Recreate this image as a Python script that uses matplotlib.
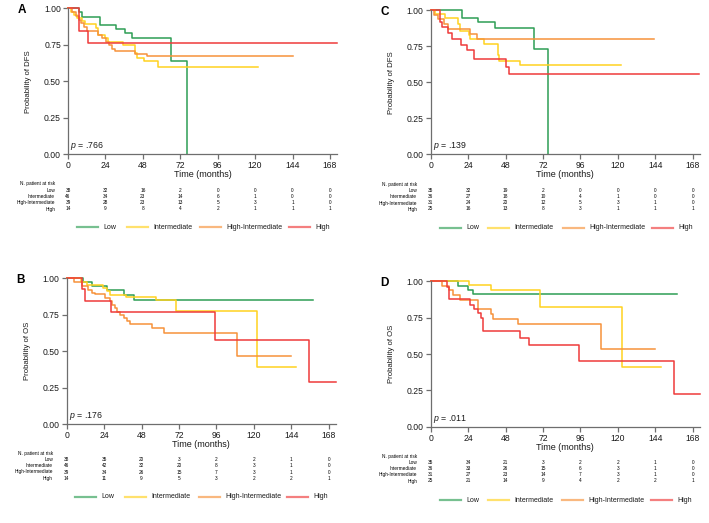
import matplotlib.pyplot as plt
from matplotlib.lines import Line2D
from matplotlib.transforms import blended_transform_factory

plt.rcParams['font.family'] = ['Liberation Sans', 'DejaVu Sans']
plt.rcParams['mathtext.fontset'] = 'custom'
plt.rcParams['mathtext.it'] = 'Liberation Sans:italic'
plt.rcParams['mathtext.rm'] = 'Liberation Sans'

W, H = 709, 523

grupos = ['Low', 'Intermediate', 'High-Intermediate', 'High']
cores = ['#2e9e55', '#ffd21f', '#f7923a', '#ef3b3b']
tempos = [0, 24, 48, 72, 96, 120, 144, 168]

# ---- A: DFS (coorte 1)
A_low_t = [0, 7, 9, 20.5, 31, 36.5, 41, 66, 76]
A_low_s = [1, .973, .943, .886, .861, .833, .795, .639, 0]
A_int_t = [0, 2, 4, 6, 9, 11, 18, 19.5, 23.5, 25.5, 35, 43, 44.5, 48.5, 58, 122]
A_int_s = [1, .978, .956, .934, .912, .89, .866, .82, .796, .772, .745, .69, .66, .635, .60, .60]
A_hi_t = [0, 2.5, 5, 7, 8.5, 10, 12.5, 19, 21.5, 24.5, 26.5, 28, 30, 43, 50.5, 144.5]
A_hi_s = [1, .974, .949, .923, .897, .872, .846, .82, .795, .77, .745, .72, .705, .687, .67, .67]
A_high_t = [0, 7, 13, 172.5]
A_high_s = [1, .845, .765, .765]

# ---- B: OS (coorte 1)
B_low_t = [0, 10.5, 16.5, 26, 37, 43, 158]
B_low_s = [1, .973, .945, .917, .885, .85, .85]
B_int_t = [0, 9, 13, 23, 26, 28, 38, 57, 70, 122, 147]
B_int_s = [1, .978, .956, .933, .91, .887, .875, .85, .775, .388, .388]
B_hi_t = [0, 5, 10, 13.5, 16.5, 18, 24.5, 28, 29, 31, 32, 34, 36.5, 38.5, 40.5, 55, 62.5, 109, 144]
B_hi_s = [1, .974, .949, .923, .90, .89, .868, .845, .82, .795, .77, .75, .73, .71, .687, .658, .625, .47, .47]
B_high_t = [0, 10, 11.5, 28.5, 95, 155.5, 172.5]
B_high_s = [1, .929, .843, .767, .576, .288, .288]

# ---- C: DFS (coorte 2)
C_low_t = [0, 20, 30.5, 41, 66, 75.5]
C_low_s = [1, .947, .917, .877, .729, 0]
C_int_t = [0, 3, 9, 17.5, 19, 24.5, 25.5, 34, 43, 44, 57, 122]
C_int_s = [1, .972, .944, .90, .855, .825, .797, .762, .69, .646, .616, .616]
C_hi_t = [0, 2, 4.5, 8.5, 11, 25.5, 30, 143.5]
C_hi_s = [1, .968, .935, .903, .871, .835, .797, .797]
C_high_t = [0, 6, 7.5, 11, 13.5, 19.5, 23.5, 28, 48.5, 50.5, 172]
C_high_s = [1, .92, .88, .84, .80, .76, .72, .66, .605, .555, .555]

# ---- D: OS (coorte 2)
D_low_t = [0, 17.5, 24, 27, 158]
D_low_s = [1, .971, .943, .914, .914]
D_int_t = [0, 24.5, 38.5, 70, 122.5, 148]
D_int_s = [1, .972, .937, .826, .413, .413]
D_hi_t = [0, 7, 11.5, 14.5, 18.5, 30.5, 38.5, 40, 56, 109, 144]
D_hi_s = [1, .968, .937, .905, .873, .81, .776, .743, .709, .532, .532]
D_high_t = [0, 10.5, 11.5, 25.5, 28, 30.5, 32, 33.5, 57, 63, 95, 156, 172.5]
D_high_s = [1, .96, .875, .84, .81, .78, .745, .66, .613, .56, .45, .225, .225]

# ---- pacientes em risco
riscoA = [[38, 32, 16, 2, 0, 0, 0, 0],
          [46, 34, 23, 14, 6, 1, 0, 0],
          [39, 28, 23, 13, 5, 3, 1, 0],
          [14, 9, 8, 4, 2, 1, 1, 1]]
riscoB = [[38, 35, 20, 3, 2, 2, 1, 0],
          [46, 42, 32, 20, 8, 3, 1, 0],
          [39, 34, 26, 15, 7, 3, 1, 0],
          [14, 11, 9, 5, 3, 2, 2, 1]]
riscoC = [[35, 32, 19, 2, 0, 0, 0, 0],
          [36, 27, 18, 10, 4, 1, 0, 0],
          [31, 24, 20, 12, 5, 3, 1, 0],
          [25, 16, 13, 8, 3, 1, 1, 1]]
riscoD = [[35, 34, 21, 3, 2, 2, 1, 0],
          [36, 33, 26, 15, 6, 3, 1, 0],
          [31, 27, 23, 14, 7, 3, 1, 0],
          [25, 21, 14, 9, 4, 2, 2, 1]]

fig = plt.figure(figsize=(W / 100, H / 100), dpi=100)


def painel(px, curvas, risco, ylab, letra, pval, y_risco, x_rot, y_leg, x_leg):
    # px = (esquerda, topo, largura, baixo) em pixels
    l, t, w, b = px
    ax = fig.add_axes([l / W, 1 - b / H, w / W, (b - t) / H])
    for (tt, ss), c in zip(curvas, cores):
        ax.step(tt, ss, where='post', color=c, lw=1.1, clip_on=False)
    ax.set_xlim(0, 172.5)
    ax.set_ylim(0, 1)
    ax.set_xticks(tempos)
    ax.set_yticks([0, .25, .5, .75, 1])
    ax.set_yticklabels(['0.00', '0.25', '0.50', '0.75', '1.00'])
    for s in ['top', 'right']:
        ax.spines[s].set_visible(False)
    for s in ['left', 'bottom']:
        ax.spines[s].set_color('#6e6e6e')
        ax.spines[s].set_linewidth(0.9)
    ax.tick_params(axis='both', colors='#6e6e6e', labelcolor='#1a1a1a',
                   length=3.3, width=0.9, labelsize=6.2, pad=1.8)
    ax.set_xlabel('Time (months)', fontsize=6.5, color='#1a1a1a')
    ax.xaxis.set_label_coords(0.5, -0.11)
    ax.set_ylabel(ylab, fontsize=5.6, color='#1a1a1a')
    ax.yaxis.set_label_coords(-0.134, 0.5)
    ax.text(1.5, 0.055, r'$p$ = ' + pval, fontsize=6.3, va='center', color='#1a1a1a')
    fig.text((l - 46) / W, 1 - (t + 2) / H, letra, fontsize=8.5, fontweight='bold',
             ha='center', va='center')

    tr = blended_transform_factory(ax.transData, fig.transFigure)
    fig.text(x_rot / W, 1 - y_risco[0] / H, 'N. patient at risk', fontsize=3.4,
             ha='right', va='center')
    for i, g in enumerate(grupos):
        y = 1 - y_risco[i + 1] / H
        fig.text(x_rot / W, y, g, fontsize=3.4, ha='right', va='center')
        for tm, n in zip(tempos, risco[i]):
            fig.text(tm, y, str(n), transform=tr, fontsize=3.4, ha='center', va='center')

    for g, c, x0 in zip(grupos, cores, x_leg):
        yl = 1 - y_leg / H
        fig.add_artist(Line2D([x0 / W, (x0 + 21) / W], [yl, yl], color=c, lw=1.6,
                              alpha=0.65))
        fig.text((x0 + 26.5) / W, yl, g, fontsize=5, va='center', color='#1a1a1a')
    return ax


painel((68, 8.3, 269, 154),
       [(A_low_t, A_low_s), (A_int_t, A_int_s), (A_hi_t, A_hi_s), (A_high_t, A_high_s)],
       riscoA, 'Probability of DFS', 'A', '.766',
       [184, 190.3, 196.5, 202.8, 209], 55, 227.3, [77, 127, 200, 289])
painel((430.7, 10, 269, 154.3),
       [(C_low_t, C_low_s), (C_int_t, C_int_s), (C_hi_t, C_hi_s), (C_high_t, C_high_s)],
       riscoC, 'Probability of DFS', 'C', '.139',
       [184.7, 190.7, 196.7, 203, 209], 417, 227.7, [440, 488, 563, 651.5])
painel((66.7, 278.3, 269, 424),
       [(B_low_t, B_low_s), (B_int_t, B_int_s), (B_hi_t, B_hi_s), (B_high_t, B_high_s)],
       riscoB, 'Probability of OS', 'B', '.176',
       [453.3, 459.3, 465.7, 472, 478.3], 53, 497, [75, 124.5, 198.5, 286.5])
painel((430.7, 281.3, 269, 426.7),
       [(D_low_t, D_low_s), (D_int_t, D_int_s), (D_hi_t, D_hi_s), (D_high_t, D_high_s)],
       riscoD, 'Probability of OS', 'D', '.011',
       [456.7, 462.7, 468.7, 474.7, 481], 417, 500, [439.5, 488.3, 562.3, 651])

fig.savefig('out.png', dpi=100)
